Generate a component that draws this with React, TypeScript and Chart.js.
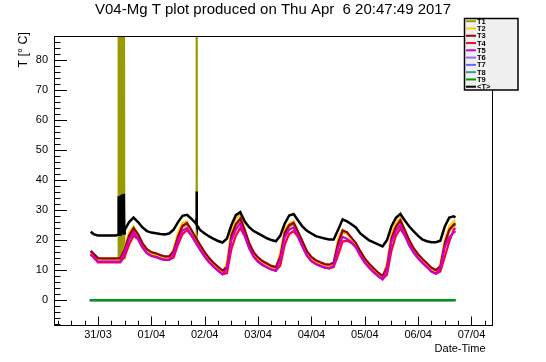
import React, { useEffect, useRef } from 'react';
import { Chart, registerables } from 'chart.js';

Chart.register(...registerables);

const TITLE = 'V04-Mg T plot produced on Thu Apr  6 20:47:49 2017';
const Y_TITLE = 'T [\u00B0 C]';
const X_TITLE = 'Date-Time';

// x axis: hours since 31/03 00:00
const dayHours = [0, 24, 48, 72, 96, 120, 144, 168];
const dayLabels = ['31/03', '01/04', '02/04', '03/04', '04/04', '05/04', '06/04', '07/04'];
const yMajorTicks = [0, 10, 20, 30, 40, 50, 60, 70, 80];

const seriesNames = ['T1', 'T2', 'T3', 'T4', 'T5', 'T6', 'T7', 'T8', 'T9', '<T>'];
const seriesColors = ['#999900', '#ffcc00', '#990000', '#ff0033', '#cc00cc', '#9966ff', '#6666ff', '#339999', '#009900', '#000000'];

const hours = [
  -3.3, -2, 0, 2, 4, 6, 8, 10, 12, 14,
  16, 18, 20, 22, 24, 26, 28, 30, 32, 34,
  36, 38, 40, 42, 44, 46, 48, 50, 52, 54,
  56, 58, 60, 62, 64, 66, 68, 70, 72, 74,
  76, 78, 80, 82, 84, 86, 88, 90, 92, 94,
  96, 98, 100, 102, 104, 106, 108, 110, 112, 114,
  116, 118, 120, 122, 124, 126, 128, 130, 132, 134,
  136, 138, 140, 142, 144, 146, 148, 150, 152, 154,
  156, 158, 160, 160.8,
];

const t1 = [
  16.0, 15.0, 13.6, 13.5, 13.5, 13.5, 13.5, 13.5, 16.5, 21.0,
  23.5, 21.5, 18.5, 16.5, 15.5, 15.1, 14.5, 14.1, 14.1, 15.8,
  20.7, 24.3, 25.2, 22.9, 20.3, 17.8, 15.5, 13.5, 11.9, 10.6,
  9.3, 10.5, 21.0, 24.8, 26.7, 22.9, 18.5, 15.5, 13.7, 12.5,
  11.7, 10.9, 10.5, 14.0, 22.0, 24.5, 25.3, 22.3, 19.0, 15.8,
  13.9, 12.8, 12.1, 11.5, 11.3, 12.0, 18.5, 22.7, 22.1, 20.3,
  18.5, 15.8, 13.4, 11.6, 10.1, 8.7, 7.5, 10.5, 20.0, 24.0,
  26.1, 22.9, 19.5, 16.8, 14.8, 13.2, 11.8, 10.3, 9.5, 10.7,
  18.5, 23.0, 24.7, 25.1,
];
const t1SpikeHours = [9.0, 9.2, 9.4, 9.6, 9.8, 10.0, 10.2, 10.4, 10.6, 10.8, 11.0, 11.2, 11.4, 11.6, 11.8, 44.1, 44.3, 44.5];
const t1SpikeValues = [14, 150, 14, 150, 14, 150, 14, 150, 14, 150, 14, 150, 14, 150, 14, 20.3, 150, 20.0];

const t2 = [
  15.7, 14.8, 13.3, 13.2, 13.2, 13.2, 13.2, 13.4, 17.5, 22.5,
  24.5, 21.5, 18.2, 16.1, 15.1, 14.8, 14.2, 13.8, 13.9, 17.0,
  22.5, 25.8, 26.2, 22.8, 19.8, 17.2, 15.0, 13.0, 11.5, 10.2,
  9.0, 12.5, 23.5, 27.2, 28.6, 23.5, 18.2, 15.2, 13.4, 12.2,
  11.4, 10.7, 10.3, 16.0, 23.5, 25.5, 26.3, 22.5, 18.6, 15.4,
  13.6, 12.5, 11.9, 11.3, 11.1, 12.5, 20.5, 23.5, 22.0, 20.3,
  18.3, 15.4, 13.0, 11.3, 9.8, 8.5, 7.4, 12.5, 22.0, 25.8,
  27.5, 23.0, 19.0, 16.4, 14.5, 12.9, 11.5, 10.0, 9.3, 12.0,
  20.0, 24.5, 26.3, 26.5,
];

const t3 = [
  16.4, 15.5, 14.0, 13.9, 13.9, 13.9, 13.9, 13.9, 17.0, 21.5,
  24.0, 22.0, 19.0, 17.0, 16.0, 15.6, 15.0, 14.6, 14.6, 16.3,
  21.2, 24.8, 25.7, 23.4, 20.8, 18.3, 16.0, 14.0, 12.4, 11.1,
  9.8, 11.0, 21.5, 25.3, 27.2, 23.4, 19.0, 16.0, 14.2, 13.0,
  12.2, 11.4, 11.0, 14.5, 22.5, 25.0, 25.8, 22.8, 19.5, 16.3,
  14.4, 13.3, 12.6, 12.0, 11.8, 12.5, 19.0, 23.2, 22.6, 20.8,
  19.0, 16.3, 13.9, 12.1, 10.6, 9.2, 8.0, 11.0, 20.5, 24.5,
  26.6, 23.4, 20.0, 17.3, 15.3, 13.7, 12.3, 10.8, 10.0, 11.2,
  19.0, 23.5, 25.2, 25.6,
];

const t4 = [
  15.2, 14.2, 12.6, 12.6, 12.6, 12.6, 12.6, 12.6, 14.5, 18.5,
  21.5, 20.3, 17.5, 15.6, 14.7, 14.4, 13.8, 13.4, 13.4, 14.2,
  18.5, 22.0, 23.3, 21.5, 19.1, 16.7, 14.5, 12.6, 11.1, 9.8,
  8.6, 9.0, 17.0, 21.5, 24.0, 21.3, 17.3, 14.5, 12.8, 11.7,
  10.9, 10.2, 9.8, 11.5, 18.5, 22.0, 23.0, 21.0, 17.8, 14.8,
  13.0, 12.0, 11.4, 10.8, 10.6, 11.0, 15.0, 19.5, 19.8, 19.0,
  17.6, 14.8, 12.5, 10.8, 9.3, 8.0, 6.9, 8.5, 16.5, 21.5,
  23.8, 21.5, 18.3, 15.8, 13.9, 12.4, 11.0, 9.5, 8.8, 9.5,
  14.5, 19.5, 23.5, 24.0,
];

const t5 = [
  15.4, 14.5, 12.8, 12.8, 12.8, 12.8, 12.8, 12.8, 16.2, 20.2,
  22.7, 20.5, 17.6, 15.6, 14.7, 14.4, 13.8, 13.4, 13.5, 15.5,
  20.0, 23.2, 24.0, 21.7, 19.1, 16.7, 14.5, 12.6, 11.1, 9.8,
  8.6, 10.5, 20.0, 23.5, 25.6, 21.7, 17.3, 14.5, 12.8, 11.7,
  10.9, 10.2, 9.8, 13.5, 21.0, 23.5, 24.2, 21.2, 17.8, 14.8,
  13.0, 12.0, 11.4, 10.8, 10.6, 11.5, 17.5, 21.1, 20.4, 19.3,
  17.6, 14.8, 12.5, 10.8, 9.3, 8.0, 6.9, 10.5, 19.5, 23.0,
  25.0, 21.7, 18.3, 15.8, 13.9, 12.4, 11.0, 9.5, 8.8, 10.5,
  17.8, 20.9, 22.5, 23.0,
];

// T6..T9 read flat at 0 over the whole period
const flatHours = [-3.7, 160.8];
const t6 = [0, 0];
const t7 = [0, 0];
const t8 = [0, 0];
const t9 = [0, 0];

const tAvg = [
  22.8, 22.0, 21.5, 21.5, 21.5, 21.5, 21.5, 21.8, 23.4, 26.0,
  27.5, 26.0, 24.2, 23.0, 22.5, 22.3, 22.0, 21.9, 22.2, 23.5,
  26.0, 28.1, 28.4, 27.1, 25.5, 23.3, 22.2, 21.2, 20.4, 19.7,
  19.2, 20.5, 25.0, 28.3, 29.3, 26.2, 24.3, 23.0, 22.2, 21.4,
  20.6, 20.0, 19.6, 21.5, 25.5, 28.2, 28.7, 26.5, 24.5, 23.1,
  22.2, 21.3, 20.9, 20.5, 20.2, 20.2, 23.4, 26.9, 26.2, 25.3,
  24.2, 22.2, 21.0, 19.9, 19.2, 18.6, 17.9, 20.0, 24.6, 27.4,
  28.7, 26.5, 24.5, 22.9, 21.4, 20.1, 19.6, 19.3, 19.3, 19.8,
  24.5, 27.5, 27.9, 27.6,
];
const avgSpikeHours = [9.0, 9.2, 9.4, 9.6, 9.8, 10.0, 10.2, 10.4, 10.6, 10.8, 11.0, 11.2, 11.4, 11.6, 11.8, 44.1, 44.3, 44.5];
const avgSpikeValues = [21.8, 34.5, 21.8, 34.7, 21.9, 34.8, 22.0, 34.9, 22.0, 35.1, 22.1, 35.2, 22.2, 35.4, 22.3, 26.0, 36.2, 25.0];

const X_MIN = -19.8;
const X_MAX = 177;
const Y_MIN = -8.3;
const Y_MAX = 88;
const FONT = '"Liberation Sans", Arial, Helvetica, sans-serif';

type Pt = { x: number; y: number };
const toPoints = (hs: number[], vs: number[]): Pt[] => hs.map((h, i) => ({ x: h, y: vs[i] }));
const withSpikes = (base: Pt[], sh: number[], sv: number[]): Pt[] =>
  [...base, ...toPoints(sh, sv)].sort((a, b) => a.x - b.x);

const seriesPoints: Pt[][] = [
  withSpikes(toPoints(hours, t1), t1SpikeHours, t1SpikeValues),
  toPoints(hours, t2),
  toPoints(hours, t3),
  toPoints(hours, t4),
  toPoints(hours, t5),
  toPoints(flatHours, t6),
  toPoints(flatHours, t7),
  toPoints(flatHours, t8),
  toPoints(flatHours, t9),
  withSpikes(toPoints(hours, tAvg), avgSpikeHours, avgSpikeValues),
];

const rootDecor = {
  id: 'rootDecor',
  afterDatasetsDraw(chart: any) {
    const { ctx, chartArea } = chart;
    const xs = chart.scales.x;
    const ys = chart.scales.y;
    const { left, right, top, bottom } = chartArea;
    ctx.save();
    ctx.strokeStyle = '#000';
    ctx.lineWidth = 1;
    // x ticks (inside frame)
    for (let h = -18; h <= X_MAX; h += 6) {
      const px = Math.round(xs.getPixelForValue(h)) + 0.5;
      const len = h % 24 === 0 ? 8.5 : 4.3;
      ctx.beginPath();
      ctx.moveTo(px, bottom);
      ctx.lineTo(px, bottom - len);
      ctx.stroke();
    }
    // y ticks
    for (let v = -8; v <= Y_MAX; v += 2) {
      const py = Math.round(ys.getPixelForValue(v)) + 0.5;
      const len = v % 10 === 0 ? 13 : 6.5;
      ctx.beginPath();
      ctx.moveTo(left, py);
      ctx.lineTo(left + len, py);
      ctx.stroke();
    }
    // frame
    ctx.strokeRect(Math.round(left) + 0.5, Math.round(top) + 0.5, Math.round(right - left), Math.round(bottom - top));
    ctx.restore();
  },
  afterDraw(chart: any) {
    const { ctx, chartArea } = chart;
    ctx.save();
    ctx.fillStyle = '#000';
    // title
    ctx.font = `15px ${FONT}`;
    ctx.textAlign = 'center';
    ctx.textBaseline = 'alphabetic';
    ctx.fillText(TITLE, 273, 14);
    // x title
    ctx.font = `11px ${FONT}`;
    ctx.textAlign = 'right';
    ctx.fillText(X_TITLE, chartArea.right - 6, 351.5);
    // y title
    ctx.save();
    ctx.font = `12.5px ${FONT}`;
    ctx.translate(27, 32);
    ctx.rotate(-Math.PI / 2);
    ctx.textAlign = 'right';
    ctx.fillText(Y_TITLE, 0, 0);
    ctx.restore();
    // legend
    const bx = 464.5, by = 18.5, bw = 53.5, bh = 71.5;
    ctx.fillStyle = '#f0f0f0';
    ctx.fillRect(bx, by, bw, bh);
    ctx.strokeStyle = '#000';
    ctx.lineWidth = 1.5;
    ctx.strokeRect(bx, by, bw, bh);
    ctx.font = `bold 7.5px ${FONT}`;
    ctx.textAlign = 'left';
    ctx.textBaseline = 'middle';
    seriesNames.forEach((name, i) => {
      const cy = 21.2 + i * 7.28;
      ctx.strokeStyle = seriesColors[i];
      ctx.lineWidth = 2;
      ctx.beginPath();
      ctx.moveTo(466, cy);
      ctx.lineTo(476, cy);
      ctx.stroke();
      ctx.fillStyle = '#000';
      ctx.fillText(name, 477, cy + 0.5);
    });
    ctx.restore();
  },
};

export default function App() {
  const ref = useRef<HTMLCanvasElement | null>(null);
  useEffect(() => {
    if (!ref.current) return;
    Chart.defaults.font.family = FONT;
    Chart.defaults.color = '#000';
    const chart = new Chart(ref.current, {
      type: 'line',
      data: {
        datasets: seriesPoints.map((pts, i) => ({
          label: seriesNames[i],
          data: pts,
          borderColor: seriesColors[i],
          backgroundColor: seriesColors[i],
          borderWidth: i === 9 ? 2.5 : 2.2,
          pointRadius: 0,
          tension: 0,
          fill: false,
          order: 10 - i,
        })),
      },
      options: {
        responsive: false,
        animation: false,
        events: [],
        layout: { padding: { top: 36, right: 54.5, left: 0, bottom: 0 } },
        plugins: { legend: { display: false }, title: { display: false }, tooltip: { enabled: false } },
        scales: {
          x: {
            type: 'linear',
            min: X_MIN,
            max: X_MAX,
            grid: { display: false, drawTicks: false },
            border: { display: false },
            afterFit: (s: any) => { s.height = 37; },
            afterBuildTicks: (s: any) => { s.ticks = dayHours.map((v) => ({ value: v })); },
            ticks: {
              autoSkip: false,
              maxRotation: 0,
              padding: 3,
              font: { size: 11, family: FONT },
              color: '#000',
              callback: (v: any) => dayLabels[dayHours.indexOf(Number(v))] ?? '',
            },
          },
          y: {
            type: 'linear',
            min: Y_MIN,
            max: Y_MAX,
            grid: { display: false, drawTicks: false },
            border: { display: false },
            afterFit: (s: any) => { s.width = 54; },
            afterBuildTicks: (s: any) => { s.ticks = yMajorTicks.map((v) => ({ value: v })); },
            ticks: {
              padding: 6,
              font: { size: 11, family: FONT },
              color: '#000',
            },
          },
        },
      },
      plugins: [rootDecor],
    });
    return () => chart.destroy();
  }, []);
  return (
    <div style={{ position: 'absolute', left: 0, top: 0, width: 546, height: 362, background: '#fff' }}>
      <canvas ref={ref} width={546} height={362} style={{ display: 'block', width: 546, height: 362 }} />
    </div>
  );
}
